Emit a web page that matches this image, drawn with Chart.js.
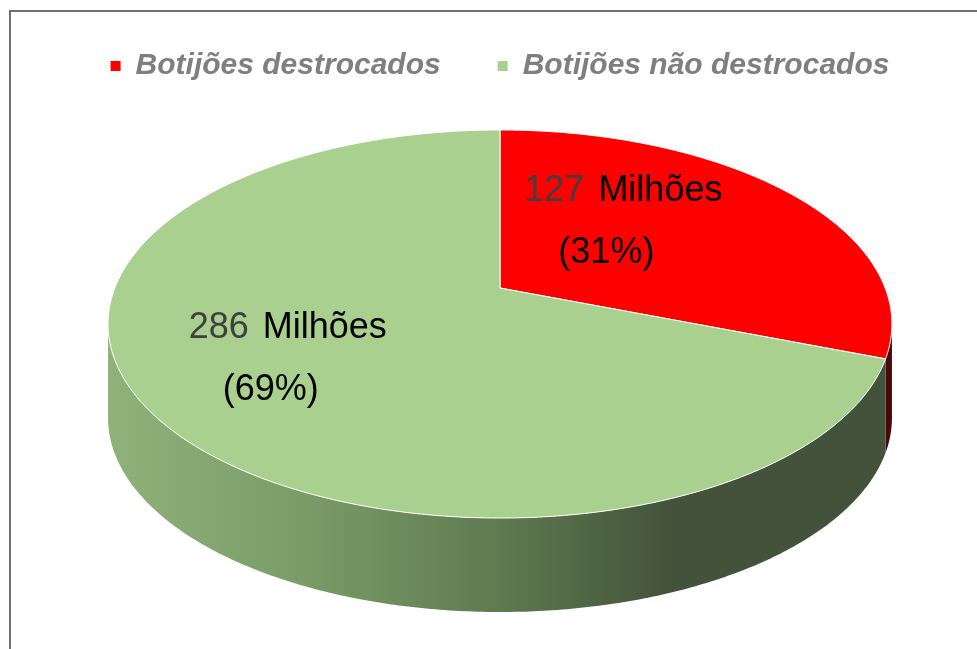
<!DOCTYPE html>
<html>
<head>
<meta charset="utf-8">
<script src="https://cdn.jsdelivr.net/npm/chart.js@4.4.1/dist/chart.umd.min.js"></script>
<style>
  html, body { margin: 0; padding: 0; background: #fff; overflow: hidden; }
  #wrap { position: relative; width: 977px; height: 649px; }
  #frame { position: absolute; left: 9px; top: 10px; width: 990px; height: 660px;
           border-left: 2px solid #707070; border-top: 2px solid #707070; pointer-events: none; }
</style>
</head>
<body>
<div id="wrap">
  <canvas id="pie"></canvas>
  <div id="frame"></div>
</div>
<script>
// data (millions of gas cylinders)
const categories = ['Botijões destrocados', 'Botijões não destrocados'];
const millions = [127, 286];
const unitLabel = 'Milhões';

// colours
const topColors = ['#ff0000', '#a9d08e'];
const wallStops = [
  [[0, '#7a1212'], [1, '#4a0808']],
  [[0, '#8fb27b'], [0.25, '#7a9c67'], [0.5, '#5e7a50'], [0.72, '#43523a'], [1, '#43523a']]
];

// 3d look: horizontal / vertical stretch of the pie radius, perspective, wall depth
const tilt = { sx: 1.955, sy: 0.951, k: 0.1856, depth: 0.477 };
// label shift from the projected slice centre, px
const labelNudge = [[-61, -4], [-2, 0]];

const total = millions.reduce((a, b) => a + b, 0);

function project(arc, angle, r) {
  const R = arc.outerRadius;
  const u = r * Math.cos(angle), v = r * Math.sin(angle);
  const w = 1 - tilt.k * v;
  return { x: arc.x + R * tilt.sx * u / w, y: arc.y + R * tilt.sy * v / w };
}

function edge(ctx, arc, a1, a2, dy, moveFirst) {
  const steps = Math.max(8, Math.ceil(Math.abs(a2 - a1) / 0.01));
  for (let i = 0; i <= steps; i++) {
    const p = project(arc, a1 + (a2 - a1) * i / steps, 1);
    if (i === 0 && moveFirst) ctx.moveTo(p.x, p.y + dy);
    else ctx.lineTo(p.x, p.y + dy);
  }
}

const pie3d = {
  id: 'pie3d',
  beforeDatasetDraw(chart, args) {
    const ctx = chart.ctx;
    const arcs = args.meta.data;
    const lim = Math.asin(tilt.k);
    ctx.save();
    // side walls (front half only)
    arcs.forEach((arc, i) => {
      const depth = arc.outerRadius * tilt.depth;
      const left = project(arc, Math.PI - lim, 1).x;
      const right = project(arc, lim, 1).x;
      [0, 2 * Math.PI].forEach(shift => {
        const a1 = Math.max(arc.startAngle, lim + shift);
        const a2 = Math.min(arc.endAngle, Math.PI - lim + shift);
        if (a2 <= a1) return;
        const g = ctx.createLinearGradient(left, 0, right, 0);
        wallStops[i].forEach(s => g.addColorStop(s[0], s[1]));
        ctx.beginPath();
        edge(ctx, arc, a1, a2, 0, true);
        edge(ctx, arc, a2, a1, depth, false);
        ctx.closePath();
        ctx.fillStyle = g;
        ctx.fill();
      });
    });
    // top faces
    arcs.forEach((arc, i) => {
      ctx.beginPath();
      ctx.moveTo(arc.x, arc.y);
      edge(ctx, arc, arc.startAngle, arc.endAngle, 0, false);
      ctx.closePath();
      ctx.fillStyle = topColors[i];
      ctx.fill();
      ctx.strokeStyle = '#ffffff';
      ctx.lineWidth = 1;
      ctx.stroke();
    });
    ctx.restore();
    return false;
  },
  afterDatasetsDraw(chart) {
    const ctx = chart.ctx;
    const arcs = chart.getDatasetMeta(0).data;
    ctx.save();
    ctx.font = '36px "Liberation Sans", Arial, sans-serif';
    ctx.textBaseline = 'middle';
    arcs.forEach((arc, i) => {
      const p = project(arc, (arc.startAngle + arc.endAngle) / 2, 0.62);
      const cx = p.x + labelNudge[i][0], cy = p.y + labelNudge[i][1];
      const num = String(millions[i]);
      const gap = 14;
      const wNum = ctx.measureText(num).width, wUnit = ctx.measureText(unitLabel).width;
      const x0 = cx - (wNum + gap + wUnit) / 2;
      ctx.textAlign = 'left';
      ctx.fillStyle = '#404040';
      ctx.fillText(num, x0, cy - 31);
      ctx.fillStyle = '#000000';
      ctx.fillText(unitLabel, x0 + wNum + gap, cy - 31);
      ctx.textAlign = 'center';
      ctx.fillText('(' + Math.round(millions[i] / total * 100) + '%)', cx - 17, cy + 31);
    });
    ctx.restore();
  }
};

new Chart(document.getElementById('pie'), {
  type: 'pie',
  data: {
    labels: categories,
    datasets: [{
      data: millions,
      backgroundColor: topColors,
      borderWidth: 0
    }]
  },
  options: {
    responsive: true,
    maintainAspectRatio: false,
    animation: false,
    layout: { padding: { top: -6, left: 23, right: 0, bottom: 164 } },
    plugins: {
      legend: {
        position: 'top',
        labels: {
          boxWidth: 10,
          boxHeight: 10,
          padding: 57,
          color: '#7f7f7f',
          font: { family: '"Liberation Sans", Arial, sans-serif', size: 30, style: 'italic', weight: 'bold' }
        }
      },
      tooltip: { enabled: false }
    }
  },
  plugins: [pie3d]
});
</script>
</body>
</html>
